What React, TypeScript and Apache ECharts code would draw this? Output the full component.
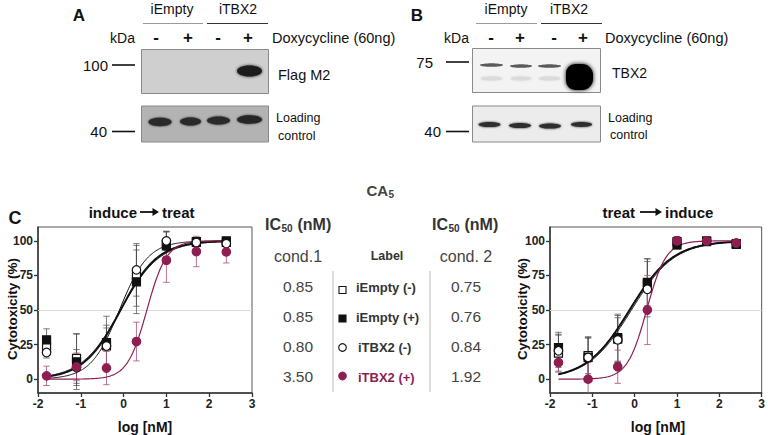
import React, { useEffect, useRef } from 'react';
import * as echarts from 'echarts';

// ---------- data ----------
const doseLog = [-1.8, -1.1, -0.4, 0.3, 1.0, 1.7, 2.4];
const groupLabels = ['iEmpty (-)', 'iEmpty (+)', 'iTBX2 (-)', 'iTBX2 (+)'];

// condition 1: induce -> treat
const c1EmptyMinus = [23, 15, 24, 74.7, 97.6, 98.8, 98.8];
const c1EmptyMinusSd = [5, 18, 15, 22, 9, 3, 2];
const c1EmptyPlus = [28.4, 12.5, 26.5, 70.4, 96.4, 99.5, 100];
const c1EmptyPlusSd = [8, 20, 19, 23, 10, 3, 2];
const c1TbxMinus = [19.3, 8.4, 24, 79, 100, 98.8, 98];
const c1TbxMinusSd = [4, 13, 13, 19, 7, 3, 2];
const c1TbxPlus = [2.4, 8.9, 8, 27.2, 86, 92.3, 92];
const c1TbxPlusSd = [7, 10, 12, 14, 16, 11, 8];

// condition 2: treat -> induce
const c2EmptyMinus = [18.8, 17, 29, 70, 99.5, 100, 98];
const c2EmptyMinusSd = [13, 13, 17, 17, 3, 2, 2];
const c2EmptyPlus = [22.9, 15.7, 30, 69, 97, 99.5, 97.5];
const c2EmptyPlusSd = [11, 15, 17, 18, 3, 2, 2];
const c2TbxMinus = [20.5, 15.7, 28.4, 65, 100, 100, 98];
const c2TbxMinusSd = [12, 14, 16, 20, 3, 2, 2];
const c2TbxPlus = [12, 0, 9, 50, 100, 100, 98.5];
const c2TbxPlusSd = [7, 12, 12, 25, 3, 2, 2];

// fitted parameters (IC50 in nM, Hill slope)
const ic50Cond1 = [0.85, 0.85, 0.8, 3.5];
const ic50Cond2 = [0.75, 0.76, 0.84, 1.92];
const ic50Cond1Text = ['0.85', '0.85', '0.80', '3.50'];
const ic50Cond2Text = ['0.75', '0.76', '0.84', '1.92'];
const hillCond1 = [0.95, 1.0, 1.3, 1.9];
const hillCond2 = [0.85, 0.85, 0.85, 1.9];

const yTicks = [0, 25, 50, 75, 100];

// ---------- styles ----------
const PURPLE = '#8e1e52';
const F = "'Liberation Sans', Arial, Helvetica, sans-serif";
const BLOT_F = "'Liberation Sans', Arial, sans-serif";

const fitCurve = (ic50: number, hill: number) => {
  const lic = Math.log10(ic50);
  const pts: number[][] = [];
  const x0 = doseLog[0];
  const x1 = doseLog[doseLog.length - 1];
  const n = 210;
  for (let i = 0; i <= n; i++) {
    const x = x0 + ((x1 - x0) * i) / n;
    pts.push([x, 100 / (1 + Math.pow(10, (lic - x) * hill))]);
  }
  return pts;
};

const markerStyles = [
  { symbol: 'rect', color: '#fff', border: '#111', size: 8 },
  { symbol: 'rect', color: '#111', border: '#111', size: 8 },
  { symbol: 'circle', color: '#fff', border: '#111', size: 8.5 },
  { symbol: 'circle', color: PURPLE, border: PURPLE, size: 8.5 },
];
const curveWidths = [1, 2, 1, 1.2];
const curveColors = ['#111', '#111', '#111', PURPLE];
const errColors = ['rgba(70,70,70,0.7)', 'rgba(70,70,70,0.7)', 'rgba(70,70,70,0.7)', 'rgba(170,90,130,0.85)'];

function buildSeries(gridIdx: number, means: number[][], sds: number[][], ic50: number[], hill: number[]) {
  const series: any[] = [];
  for (let k = 0; k < 4; k++) {
    series.push({
      type: 'line',
      name: groupLabels[k] + ' fit',
      xAxisIndex: gridIdx,
      yAxisIndex: gridIdx,
      data: fitCurve(ic50[k], hill[k]),
      showSymbol: false,
      symbol: 'none',
      lineStyle: { color: curveColors[k], width: curveWidths[k] },
      z: 3,
      silent: true,
      ...(k === 0
        ? {
            markLine: {
              silent: true,
              symbol: 'none',
              label: { show: false },
              lineStyle: { color: '#dcdcdc', width: 1, type: 'solid' },
              data: [{ yAxis: 50 }],
              z: 1,
            },
          }
        : {}),
    });
  }
  for (let k = 0; k < 4; k++) {
    const color = errColors[k];
    series.push({
      type: 'custom',
      xAxisIndex: gridIdx,
      yAxisIndex: gridIdx,
      clip: true,
      z: 2,
      data: doseLog.map((x, i) => [x, means[k][i] - sds[k][i], means[k][i] + sds[k][i]]),
      renderItem: (params: any, api: any) => {
        const x = api.value(0);
        const p1 = api.coord([x, api.value(1)]);
        const p2 = api.coord([x, api.value(2)]);
        const w = 3.2;
        const st = { stroke: color, lineWidth: 1 };
        return {
          type: 'group',
          children: [
            { type: 'line', shape: { x1: p1[0], y1: p1[1], x2: p2[0], y2: p2[1] }, style: st },
            { type: 'line', shape: { x1: p1[0] - w, y1: p1[1], x2: p1[0] + w, y2: p1[1] }, style: st },
            { type: 'line', shape: { x1: p2[0] - w, y1: p2[1], x2: p2[0] + w, y2: p2[1] }, style: st },
          ],
        };
      },
    });
  }
  for (let k = 0; k < 4; k++) {
    const m = markerStyles[k];
    series.push({
      type: 'scatter',
      name: groupLabels[k],
      xAxisIndex: gridIdx,
      yAxisIndex: gridIdx,
      data: doseLog.map((x, i) => [x, means[k][i]]),
      symbol: m.symbol,
      symbolSize: m.size,
      itemStyle: { color: m.color, borderColor: m.border, borderWidth: 1.2, opacity: 1 },
      z: 5,
    });
  }
  return series;
}

const axisCommonX = (gridIndex: number) => ({
  type: 'value',
  gridIndex,
  min: -2,
  max: 3,
  interval: 1,
  axisLine: { show: true, onZero: false, lineStyle: { color: '#333', width: 1.5 } },
  axisTick: { show: true, length: 4, lineStyle: { color: '#333', width: 1.3 } },
  axisLabel: { color: '#222', fontFamily: F, fontWeight: 'bold', fontSize: 12, margin: 5 },
  splitLine: { show: false },
});
const axisCommonY = (gridIndex: number) => ({
  type: 'value',
  gridIndex,
  min: -10,
  max: 110,
  axisLine: { show: true, onZero: false, lineStyle: { color: '#333', width: 1.5 } },
  axisTick: { show: true, length: 4, customValues: yTicks, lineStyle: { color: '#333', width: 1.3 } },
  axisLabel: { color: '#222', fontFamily: F, fontWeight: 'bold', fontSize: 12, margin: 5, customValues: yTicks },
  splitLine: { show: false },
});

// ---------- graphic helpers ----------
const txt = (x: number, y: number, text: string, o: any = {}) => ({
  type: 'text',
  x,
  y,
  silent: true,
  style: {
    text,
    fill: o.fill || '#111',
    font: `${o.bold ? 'bold ' : ''}${o.size || 12}px ${o.family || F}`,
    textAlign: o.align || 'left',
    textVerticalAlign: 'middle',
    verticalAlign: 'middle',
  },
  rotation: o.rotation || 0,
  z: 10,
});
const ln = (x1: number, y1: number, x2: number, y2: number, stroke: string, w = 1) => ({
  type: 'line',
  silent: true,
  shape: { x1, y1, x2, y2 },
  style: { stroke, lineWidth: w },
  z: 10,
});
const band = (cx: number, cy: number, rx: number, ry: number, fill: string, blur = 2) => ({
  type: 'ellipse',
  silent: true,
  shape: { cx, cy, rx, ry },
  style: { fill, shadowBlur: blur, shadowColor: fill },
  z: 11,
});
const box = (x: number, y: number, w: number, h: number, fill: string, stroke = '#8a8a8a') => ({
  type: 'rect',
  silent: true,
  shape: { x, y, width: w, height: h },
  style: { fill, stroke, lineWidth: 1 },
  z: 10,
});
const arrow = (x1: number, x2: number, y: number) => [
  ln(x1, y, x2 - 5, y, '#111', 1.8),
  {
    type: 'polygon',
    silent: true,
    shape: { points: [[x2 - 6.5, y - 4], [x2, y], [x2 - 6.5, y + 4]] },
    style: { fill: '#111' },
    z: 10,
  },
];

function blotHeader(
  letter: string,
  letterX: number,
  emptyCx: number,
  emptyLine: number[],
  tbxCx: number,
  tbxLine: number[],
  kdaRight: number,
  lanes: number[],
  doxX: number
) {
  const els: any[] = [];
  els.push(txt(letterX, 15, letter, { bold: true, size: 17, align: 'center' }));
  els.push(txt(emptyCx, 9, 'iEmpty', { size: 14, align: 'center', family: BLOT_F }));
  els.push(ln(emptyLine[0], 23.5, emptyLine[1], 23.5, '#9a9a9a', 1));
  els.push(txt(tbxCx, 9, 'iTBX2', { size: 14, align: 'center', family: BLOT_F }));
  els.push(ln(tbxLine[0], 23.5, tbxLine[1], 23.5, '#333', 1));
  els.push(txt(kdaRight, 38, 'kDa', { size: 14, align: 'right', family: BLOT_F }));
  const signs = ['-', '+', '-', '+'];
  lanes.forEach((lx, i) => els.push(txt(lx, 37, signs[i], { size: 17, bold: true, align: 'center', family: BLOT_F })));
  els.push(txt(doxX, 38, 'Doxycycline (60ng)', { size: 14.5, family: BLOT_F }));
  return els;
}

export default function App() {
  const ref = useRef<HTMLDivElement>(null);
  useEffect(() => {
    if (!ref.current) return;
    const chart = echarts.init(ref.current, undefined, { renderer: 'svg' });

    const c1Means = [c1EmptyMinus, c1EmptyPlus, c1TbxMinus, c1TbxPlus];
    const c1Sds = [c1EmptyMinusSd, c1EmptyPlusSd, c1TbxMinusSd, c1TbxPlusSd];
    const c2Means = [c2EmptyMinus, c2EmptyPlus, c2TbxMinus, c2TbxPlus];
    const c2Sds = [c2EmptyMinusSd, c2EmptyPlusSd, c2TbxMinusSd, c2TbxPlusSd];

    const g: any[] = [];
    // ---- Panel A ----
    g.push(...blotHeader('A', 79, 172, [143, 203], 238, [207, 268], 135, [156, 188, 218, 248], 272));
    g.push(box(141.5, 49.5, 127, 44, '#cfcfcf'));
    g.push(band(249.5, 71, 12.5, 5.5, '#1c1c1c', 3));
    g.push(txt(108, 65, '100', { size: 15, align: 'right', family: BLOT_F }));
    g.push(ln(112, 65, 135, 65, '#111', 1.6));
    g.push(txt(278, 75, 'Flag M2', { size: 14.5, family: BLOT_F }));
    g.push(box(141.5, 106, 127, 36, '#b3b3b3'));
    g.push(band(160, 122, 11.5, 4.2, '#2a2a2a'));
    g.push(band(190.5, 121.5, 10.5, 4, '#2a2a2a'));
    g.push(band(218.5, 120.5, 11.5, 4, '#2a2a2a'));
    g.push(band(249.5, 119.5, 12.5, 4.3, '#262626'));
    g.push(txt(107, 131.5, '40', { size: 15, align: 'right', family: BLOT_F }));
    g.push(ln(112, 131.5, 135, 131.5, '#111', 1.6));
    g.push(txt(276, 118, 'Loading', { size: 12.5, family: BLOT_F }));
    g.push(txt(278, 135.5, 'control', { size: 12.5, family: BLOT_F }));

    // ---- Panel B ----
    g.push(...blotHeader('B', 417, 506, [476, 537], 569, [541, 602], 469, [491, 520, 554, 583], 605));
    g.push(box(472.5, 48.5, 128, 44, '#f3f3f3'));
    g.push(band(491.5, 65, 11.5, 1.6, '#5a5a5a', 1.5));
    g.push(band(521, 66, 11, 1.6, '#5a5a5a', 1.5));
    g.push(band(549.5, 66, 11.5, 1.6, '#5a5a5a', 1.5));
    g.push(band(491.5, 78.5, 11, 2, '#dadada', 2));
    g.push(band(521, 78.5, 10.5, 2, '#dadada', 2));
    g.push(band(549.5, 78.5, 11, 2, '#dadada', 2));
    g.push({
      type: 'rect',
      silent: true,
      shape: { x: 566, y: 64, width: 27, height: 26, r: [9, 11, 11, 9] },
      style: { fill: '#050505', shadowBlur: 4, shadowColor: '#111' },
      z: 11,
    });
    g.push(txt(433, 62, '75', { size: 15, align: 'right', family: BLOT_F }));
    g.push(ln(446, 62, 469, 62, '#111', 1.6));
    g.push(txt(612, 73, 'TBX2', { size: 14, family: BLOT_F }));
    g.push(box(472.5, 106, 128, 36, '#ececec'));
    g.push(band(489.5, 124.5, 11, 2.6, '#2e2e2e'));
    g.push(band(520, 125.5, 11, 2.6, '#2e2e2e'));
    g.push(band(550, 126, 11, 2.6, '#2e2e2e'));
    g.push(band(581.5, 124.5, 10.5, 2.4, '#2e2e2e'));
    g.push(txt(441, 131.5, '40', { size: 15, align: 'right', family: BLOT_F }));
    g.push(ln(446, 131.5, 469, 131.5, '#111', 1.6));
    g.push(txt(608, 118, 'Loading', { size: 12.5, family: BLOT_F }));
    g.push(txt(610, 135, 'control', { size: 12.5, family: BLOT_F }));

    // ---- Panel C titles ----
    g.push(txt(15, 218, 'C', { bold: true, size: 18, align: 'center' }));
    g.push(txt(137, 212, 'induce', { bold: true, size: 15, align: 'right' }));
    g.push(...arrow(140, 159, 212));
    g.push(txt(162, 212, 'treat', { bold: true, size: 15 }));
    g.push(txt(635, 212, 'treat', { bold: true, size: 15, align: 'right' }));
    g.push(...arrow(640, 662, 212));
    g.push(txt(665, 212, 'induce', { bold: true, size: 15 }));
    g.push(txt(12, 309, 'Cytotoxicity (%)', { bold: true, size: 13.5, align: 'center', rotation: Math.PI / 2 }));
    g.push(txt(522, 309, 'Cytotoxicity (%)', { bold: true, size: 13.5, align: 'center', rotation: Math.PI / 2 }));
    g.push(txt(145, 427, 'log [nM]', { bold: true, size: 14, align: 'center' }));
    g.push(txt(658, 427, 'log [nM]', { bold: true, size: 14, align: 'center' }));

    // CA5
    g.push(txt(366.5, 190, 'CA', { bold: true, size: 15, fill: '#444' }));
    g.push(txt(388.5, 194, '5', { bold: true, size: 10, fill: '#444' }));

    // IC50 headers
    const ic50Header = (x0: number) => [
      txt(x0, 224, 'IC', { bold: true, size: 16, fill: '#333' }),
      txt(x0 + 16.5, 228, '50', { bold: true, size: 10, fill: '#333' }),
      txt(x0 + 28, 224, ' (nM)', { bold: true, size: 16, fill: '#333' }),
    ];
    g.push(...ic50Header(265));
    g.push(...ic50Header(432));
    g.push(txt(298, 256, 'cond.1', { size: 16, fill: '#444', align: 'center' }));
    g.push(txt(466, 256, 'cond. 2', { size: 16, fill: '#444', align: 'center' }));
    g.push(txt(387, 256, 'Label', { bold: true, size: 12.5, fill: '#333', align: 'center' }));
    g.push(ln(333, 271, 333, 392, '#bdbdbd', 1));
    g.push(ln(430, 271, 430, 392, '#bdbdbd', 1));

    const rowY = [286, 316, 346, 376];
    const markerY = [290, 318.5, 347.5, 376];
    rowY.forEach((y, i) => {
      g.push(txt(298, y, ic50Cond1Text[i], { size: 15.5, fill: '#444', align: 'center' }));
      g.push(txt(466, y, ic50Cond2Text[i], { size: 15.5, fill: '#444', align: 'center' }));
      const m = markerStyles[i];
      if (m.symbol === 'rect') {
        g.push({
          type: 'rect',
          silent: true,
          shape: { x: 339, y: markerY[i] - 3.5, width: 7, height: 7 },
          style: { fill: m.color, stroke: m.border, lineWidth: 1.1 },
          z: 10,
        });
      } else {
        g.push({
          type: 'circle',
          silent: true,
          shape: { cx: 342.5, cy: markerY[i], r: 3.8 },
          style: { fill: m.color, stroke: m.border, lineWidth: 1.1 },
          z: 10,
        });
      }
      g.push(
        txt(i < 2 ? 356 : 358, y + 1, groupLabels[i], {
          bold: true,
          size: 13,
          fill: i === 3 ? PURPLE : '#333',
        })
      );
    });

    const option: any = {
      animation: false,
      backgroundColor: '#fff',
      grid: [
        { left: 38, top: 227, width: 214, height: 166, show: true, borderColor: '#555', borderWidth: 1, backgroundColor: 'transparent' },
        { left: 550, top: 227, width: 215, height: 166, show: true, borderColor: '#555', borderWidth: 1, backgroundColor: 'transparent' },
      ],
      xAxis: [axisCommonX(0), axisCommonX(1)],
      yAxis: [axisCommonY(0), axisCommonY(1)],
      series: [
        ...buildSeries(0, c1Means, c1Sds, ic50Cond1, hillCond1),
        ...buildSeries(1, c2Means, c2Sds, ic50Cond2, hillCond2),
      ],
      graphic: g,
    };
    chart.setOption(option);
    return () => chart.dispose();
  }, []);

  return (
    <div
      ref={ref}
      style={{ position: 'absolute', left: 0, top: 0, width: 768, height: 435, background: '#fff' }}
    />
  );
}
